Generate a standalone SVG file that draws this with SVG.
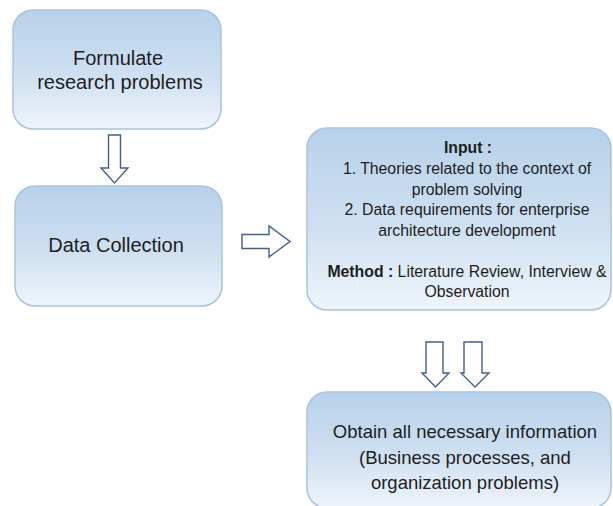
<svg xmlns="http://www.w3.org/2000/svg" width="613" height="506" viewBox="0 0 613 506">
  <defs>
    <linearGradient id="boxGrad" x1="0" y1="0" x2="0" y2="1">
      <stop offset="0" stop-color="#b7d1ea"/>
      <stop offset="0.55" stop-color="#cfe0f1"/>
      <stop offset="1" stop-color="#eef4fb"/>
    </linearGradient>
    <style>
      .box { fill: url(#boxGrad); stroke: #a9c3de; stroke-width: 1.5; }
      .arrow { fill: #ffffff; stroke: #40618c; stroke-width: 1.4; stroke-linejoin: miter; }
      text { font-family: "Liberation Sans", Arial, sans-serif; fill: #1e1e1e; text-anchor: middle; }
      .big { font-size: 20px; }
      .mid { font-size: 18.5px; }
      .small { font-size: 15.8px; }
      .b { font-weight: bold; }
    </style>
  </defs>
  <rect width="613" height="506" fill="#ffffff"/>

  <g id="node-formulate">
    <rect class="box" x="13" y="10" width="208" height="119" rx="20" ry="20"/>
    <text class="big" x="118" y="65">Formulate</text>
    <text class="big" x="120" y="89">research problems</text>
  </g>

  <g id="node-data-collection">
    <rect class="box" x="15" y="186" width="207" height="120" rx="20" ry="20"/>
    <text class="big" x="116" y="252">Data Collection</text>
  </g>

  <g id="node-input">
    <rect class="box" x="307" y="128" width="304" height="182" rx="20" ry="20"/>
    <text class="small b" x="468" y="153">Input :</text>
    <text class="small" x="467" y="174">1. Theories related to the context of</text>
    <text class="small" x="467" y="194.5">problem solving</text>
    <text class="small" x="467" y="215">2. Data requirements for enterprise</text>
    <text class="small" x="467" y="235.5">architecture development</text>
    <text class="small" x="467" y="276.5"><tspan class="b">Method :</tspan> Literature Review, Interview &amp;</text>
    <text class="small" x="467" y="297">Observation</text>
  </g>

  <g id="node-obtain">
    <rect class="box" x="307" y="392" width="304" height="116" rx="20" ry="20"/>
    <text class="mid" x="465" y="438">Obtain all necessary information</text>
    <text class="mid" x="465" y="464">(Business processes, and</text>
    <text class="mid" x="465" y="489">organization problems)</text>
  </g>

  <g id="connectors">
    <path class="arrow" d="M108.5,135 H120.5 V168 H128 L114.5,183 L101,168 H108.5 Z"/>
    <path class="arrow" d="M242,234.5 H269 V226 L290,241.5 L269,257 V248.5 H242 Z"/>
    <path class="arrow" d="M426,342 H443 V373 H449 L435.5,387 L422,373 H426 Z"/>
    <path class="arrow" d="M464,342 H482 V373 H489 L475,387 L461,373 H464 Z"/>
  </g>
</svg>
